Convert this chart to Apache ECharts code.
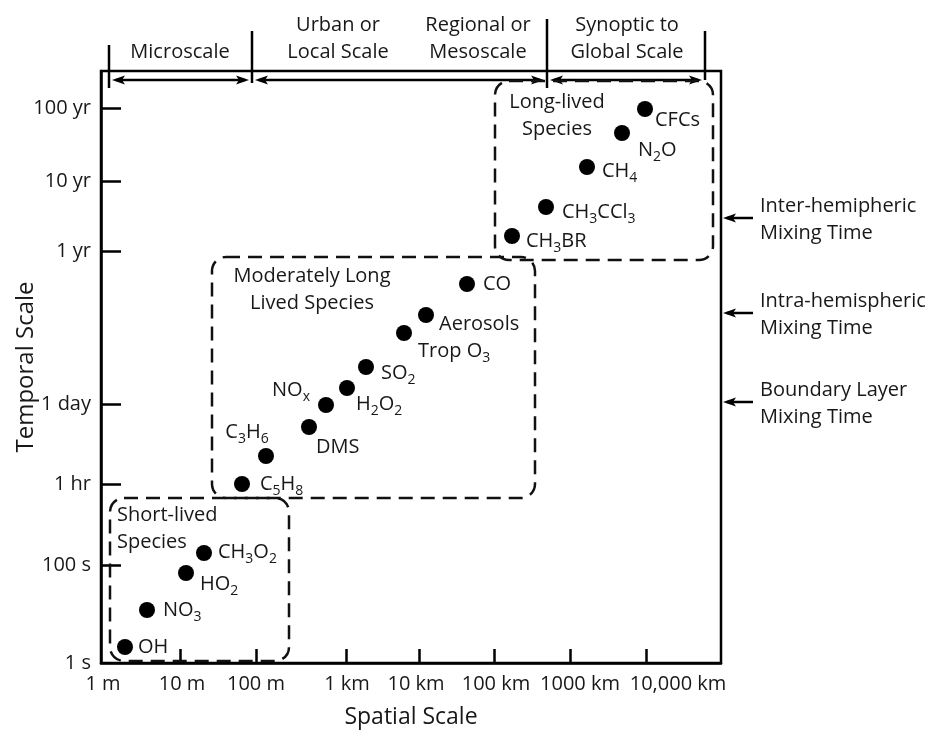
<!DOCTYPE html>
<html><head><meta charset="utf-8">
<script src="https://cdn.jsdelivr.net/npm/echarts@6/dist/echarts.min.js"></script>
<style>html,body{margin:0;padding:0;background:#fff}#c{width:935px;height:731px}</style>
</head><body><div id="c"></div>
<script>
// ---- data (chart position units: spatial / temporal scale positions) ----
const speciesNames = ['OH','NO{s|3}','HO{s|2}','CH{s|3}O{s|2}','C{s|5}H{s|8}','C{s|3}H{s|6}','DMS','NO{s|x}','H{s|2}O{s|2}','SO{s|2}','Trop O{s|3}','Aerosols','CO','CH{s|3}BR','CH{s|3}CCl{s|3}','CH{s|4}','N{s|2}O','CFCs'];
const spatialPos  = [24,46,85,103,141,165,208,225,246,265,303,325,366,411,445,486,521,544];
const temporalPos = [16,53,90,110,179,207,236,258,275,296,330,348,379,427,456,496,530,554];
const xTickPos = [79,155,245,318,393,469,545];
const xLabelPos = [2,81,155,246,315,395,479,577];
const xTickLabels = ['1 m','10 m','100 m','1 km','10 km','100 km','1000 km','10,000 km'];
const yTickPos = [0,98,179,259,412,482,555];
const yTickLabels = ['1 s','100 s','1 hr','1 day','1 yr','10 yr','100 yr'];
const groupNames = ['Short-lived\nSpecies','Moderately Long\nLived Species','Long-lived\nSpecies'];
const groupX0 = [9,111,394];
const groupX1 = [188,434,612];
const groupY0 = [2,165,403];
const groupY1 = [165,406,582];
const scaleNames = ['Microscale','Urban or\nLocal Scale','Regional or\nMesoscale','Synoptic to\nGlobal Scale'];
const scaleCenters = [79,237,377,526];
const scaleBounds = [8,151,446,604];
const mixingNames = ['Inter-hemipheric\nMixing Time','Intra-hemispheric\nMixing Time','Boundary Layer\nMixing Time'];
const mixingPos = [445,350,261];

// ---- styling (kept apart from data) ----
const FONT = 'Open Sans';
const TXT = '#1a1718';
const labelPlace = [
  ['left',13,0],['left',16,0],['left',14,11],['left',14,-1],['left',18,0],['center',-19,-24],
  ['left',7,20],['right',-16,-15],['left',9,16],['left',15,6],['left',14,18],['left',13,9],
  ['left',16,0],['left',14,5],['left',16,5],['left',15,4],['left',16,17],['left',10,11]
];
const groupLabelX = [16,211,456];
const groupLabelY = [134,373,547];
const groupLabelAlign = ['left','center','center'];
const sepTop = [45,31,19,31], sepBottom = [88,83,88,80];

const chart = echarts.init(document.getElementById('c'), null, {renderer:'canvas'});
const XMAX = 620, YMAX = 592;

const scatterData = speciesNames.map((n,i)=>({
  name:n, value:[spatialPos[i], temporalPos[i]],
  label:{align:labelPlace[i][0], offset:[labelPlace[i][1], labelPlace[i][2]]}
}));

chart.setOption({
  animation:false,
  grid:{left:101,right:214,top:71,bottom:68,containLabel:false,outerBoundsMode:'none',
    show:true,borderColor:'#000',borderWidth:2.5},
  xAxis:{type:'value',min:0,max:XMAX,
    name:'Spatial Scale',nameLocation:'middle',nameGap:43,nameMoveOverlap:false,
    nameTextStyle:{fontFamily:FONT,fontSize:23,color:TXT},
    axisLine:{show:true,lineStyle:{color:'#000',width:2.5}},
    axisTick:{show:true,inside:true,length:14,lineStyle:{color:'#000',width:2.5},customValues:xTickPos},
    axisLabel:{customValues:xLabelPos,margin:11,fontFamily:FONT,fontSize:20,color:TXT,
      hideOverlap:false,showMinLabel:true,showMaxLabel:true,
      formatter:v=>xTickLabels[xLabelPos.indexOf(v)]},
    splitLine:{show:false}},
  yAxis:{type:'value',min:0,max:YMAX,
    name:'Temporal Scale',nameLocation:'middle',nameGap:63,nameMoveOverlap:false,
    nameTextStyle:{fontFamily:FONT,fontSize:24,color:TXT},
    axisLine:{show:true,lineStyle:{color:'#000',width:2.5}},
    axisTick:{show:true,inside:true,length:20,lineStyle:{color:'#000',width:2.5},customValues:yTickPos.slice(1)},
    axisLabel:{customValues:yTickPos,margin:10,fontFamily:FONT,fontSize:20,color:TXT,
      hideOverlap:false,showMinLabel:true,showMaxLabel:true,
      formatter:v=>yTickLabels[yTickPos.indexOf(v)]},
    splitLine:{show:false}},
  series:[
    {type:'custom',silent:true,clip:false,z:1,
      data:groupNames.map((n,i)=>[groupX0[i],groupY0[i],groupX1[i],groupY1[i]]),
      renderItem:(params,api)=>{
        const i = params.dataIndex;
        const p0 = api.coord([api.value(0),api.value(3)]);
        const p1 = api.coord([api.value(2),api.value(1)]);
        const lp = api.coord([groupLabelX[i],groupLabelY[i]]);
        return {type:'group',children:[
          {type:'rect',shape:{x:p0[0],y:p0[1],width:p1[0]-p0[0],height:p1[1]-p0[1],r:14},
            style:{fill:'none',stroke:'#111',lineWidth:2.5,lineDash:[14,8]}},
          {type:'text',x:lp[0],y:lp[1],style:{text:groupNames[i],fontFamily:FONT,fontSize:20,fill:TXT,
            align:groupLabelAlign[i],verticalAlign:'middle',lineHeight:27}}
        ]};
      }},
    {type:'scatter',z:3,symbol:'circle',symbolSize:16,itemStyle:{color:'#000',opacity:1},
      data:scatterData,
      label:{show:true,position:'inside',verticalAlign:'middle',formatter:p=>p.name,
        fontFamily:FONT,fontSize:20,color:TXT,textBorderWidth:0,opacity:1,
        rich:{s:{fontFamily:FONT,fontSize:14,color:TXT,textBorderWidth:0,padding:[14,0,0,0]}}}}
  ]
});

// ---- decorations: scale header and mixing-time arrows ----
const toPx = (x,y)=>chart.convertToPixel({gridIndex:0},[x,y]);
const g = [];
const lineEl = (x1,y1,x2,y2)=>({type:'line',shape:{x1,y1,x2,y2},style:{stroke:'#000',lineWidth:2.5},silent:true});
const head = (x,y,dir)=>({type:'polygon',shape:{points:[[x,y],[x-dir*13,y-4.5],[x-dir*10,y],[x-dir*13,y+4.5]]},style:{fill:'#000'},silent:true});
const bx = scaleBounds.map(v=>toPx(v,0)[0]);
bx.forEach((x,i)=>g.push(lineEl(x,sepTop[i],x,sepBottom[i])));
const AY = 80;
const spans = [[bx[0]+3,bx[1]-3],[bx[1]+3,bx[2]-3],[bx[2]+3,bx[3]-3]];
spans.forEach(s=>{g.push(lineEl(s[0]+4,AY,s[1]-4,AY)); g.push(head(s[0],AY,-1)); g.push(head(s[1],AY,1));});
scaleNames.forEach((n,i)=>{
  const x = toPx(scaleCenters[i],0)[0];
  const twoLine = n.indexOf('\n')>=0;
  g.push({type:'text',x:x,y:twoLine?38.5:52,silent:true,
    style:{text:n,fontFamily:FONT,fontSize:20,fill:TXT,align:'center',verticalAlign:'middle',lineHeight:27}});
});
const frameRight = toPx(XMAX,0)[0];
mixingNames.forEach((n,i)=>{
  const y = toPx(0,mixingPos[i])[1];
  g.push(lineEl(frameRight+6,y,frameRight+32,y));
  g.push(head(frameRight+2,y,-1));
  g.push({type:'text',x:frameRight+39,y:y+2,silent:true,
    style:{text:n,fontFamily:FONT,fontSize:20,fill:TXT,align:'left',verticalAlign:'middle',lineHeight:27}});
});
chart.setOption({graphic:{elements:g}});
</script>
</body></html>
